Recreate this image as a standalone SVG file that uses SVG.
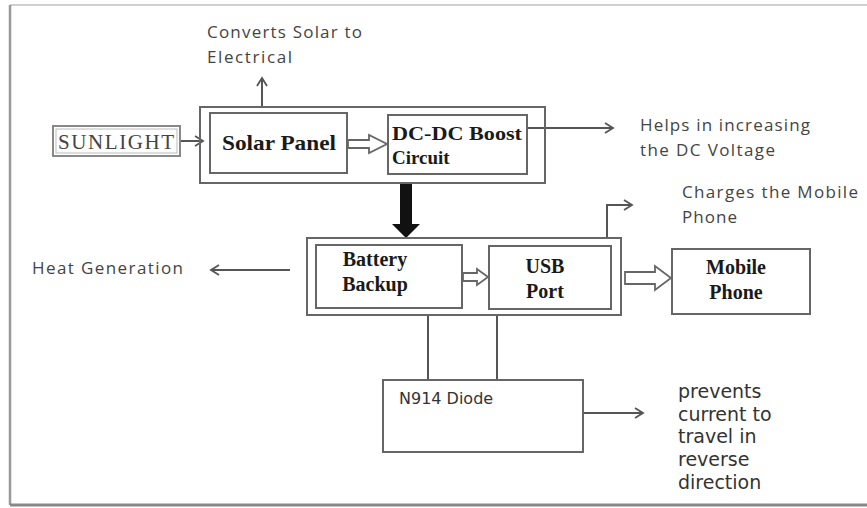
<svg xmlns="http://www.w3.org/2000/svg" width="867" height="508" viewBox="0 0 867 508">
<style>
.box{fill:#fff;stroke:#666;stroke-width:2}
.obox{fill:none;stroke:#666;stroke-width:2}
.ln{fill:none;stroke:#555;stroke-width:2}
.hol{fill:#fff;stroke:#666;stroke-width:1.8;stroke-linejoin:miter}
.bt{font-family:"Liberation Serif",serif;font-weight:bold;fill:#1a1a1a;text-anchor:middle}
.lbl{font-family:"Open Sans","Liberation Sans",sans-serif;fill:#444;font-size:17px}
.dj{font-family:"DejaVu Sans",sans-serif;fill:#333}
</style>
<defs>
<marker id="ah" markerWidth="12" markerHeight="12" refX="10" refY="6" orient="auto" markerUnits="userSpaceOnUse">
<path d="M2,1 L10,6 L2,11" fill="none" stroke="#555" stroke-width="1.8"/>
</marker>
</defs>
<rect width="867" height="508" fill="#fff"/>
<g id="frame">
<line x1="10" y1="5" x2="867" y2="5" stroke="#d0d0d0" stroke-width="2"/>
<line x1="10" y1="5" x2="10" y2="505" stroke="#999" stroke-width="2.5"/>
<line x1="10" y1="505" x2="867" y2="505" stroke="#888" stroke-width="3"/>
</g>
<g id="connectors">
<line class="ln" x1="180" y1="141" x2="203" y2="141" marker-end="url(#ah)"/>
<line class="ln" x1="262" y1="107" x2="262" y2="78" marker-end="url(#ah)"/>
<line class="ln" x1="527" y1="128" x2="613" y2="128" marker-end="url(#ah)"/>
<path class="hol" d="M348,140 L369,140 L369,135 L387,144 L369,153 L369,148 L348,148 Z"/>
<path d="M400,183 L412,183 L412,224 L420,224 L406,238 L392,224 L400,224 Z" fill="#111"/>
<line class="ln" x1="290" y1="270" x2="211" y2="270" marker-end="url(#ah)"/>
<path class="hol" d="M463,273 L477,273 L477,269 L488,277 L477,285 L477,281 L463,281 Z"/>
<path class="hol" d="M625,272 L655,272 L655,266 L671,278 L655,290 L655,284 L625,284 Z"/>
<path class="ln" d="M607,238 L607,205 L632,205" marker-end="url(#ah)"/>
<line class="ln" x1="428" y1="315" x2="428" y2="380"/>
<line class="ln" x1="497" y1="315" x2="497" y2="380"/>
<line class="ln" x1="583" y1="413" x2="643" y2="413" marker-end="url(#ah)"/>
</g>
<g id="sunlight">
<rect x="53" y="126" width="127" height="30" fill="#fff" stroke="#888" stroke-width="2"/>
<rect x="56" y="129" width="121" height="24" fill="none" stroke="#bbb" stroke-width="1"/>
<text x="116" y="149" font-family="'Liberation Serif',serif" font-size="21" fill="#444" text-anchor="middle" textLength="116" lengthAdjust="spacing">SUNLIGHT</text>
</g>
<g id="solar-group">
<rect class="obox" x="200" y="107" width="345" height="76"/>
</g>
<g id="solar-panel">
<rect class="box" x="210" y="113" width="137" height="60"/>
<text class="bt" x="279" y="150" font-size="21" textLength="114" lengthAdjust="spacingAndGlyphs">Solar Panel</text>
</g>
<g id="dcdc">
<rect class="box" x="388" y="115" width="139" height="59"/>
<text class="bt" x="392" y="140" font-size="19" style="text-anchor:start" textLength="130" lengthAdjust="spacingAndGlyphs">DC-DC Boost</text>
<text class="bt" x="392" y="164" font-size="19" style="text-anchor:start">Circuit</text>
</g>
<g id="battery-group">
<rect class="obox" x="307" y="238" width="314" height="77"/>
</g>
<g id="battery">
<rect class="box" x="316" y="245" width="146" height="63"/>
<text class="bt" x="375" y="266" font-size="20">Battery</text>
<text class="bt" x="375" y="291" font-size="20">Backup</text>
</g>
<g id="usb">
<rect class="box" x="489" y="246" width="122" height="63"/>
<text class="bt" x="545" y="273" font-size="20">USB</text>
<text class="bt" x="545" y="298" font-size="20">Port</text>
</g>
<g id="mobile">
<rect class="box" x="672" y="249" width="138" height="65"/>
<text class="bt" x="736" y="274" font-size="20">Mobile</text>
<text class="bt" x="736" y="299" font-size="20">Phone</text>
</g>
<g id="diode">
<rect class="box" x="383" y="380" width="200" height="72"/>
<text class="dj" x="399" y="404" font-size="16">N914 Diode</text>
</g>
<g id="labels">
<text class="lbl" x="207" y="38" textLength="155" lengthAdjust="spacing">Converts Solar to</text>
<text class="lbl" x="207" y="63" textLength="85" lengthAdjust="spacing">Electrical</text>
<text class="lbl" x="640" y="131" textLength="170" lengthAdjust="spacing">Helps in increasing</text>
<text class="lbl" x="640" y="156" textLength="135" lengthAdjust="spacing">the DC Voltage</text>
<text class="lbl" x="682" y="198" textLength="176" lengthAdjust="spacing">Charges the Mobile</text>
<text class="lbl" x="682" y="223" textLength="55" lengthAdjust="spacing">Phone</text>
<text class="lbl" x="32" y="274" textLength="151" lengthAdjust="spacing">Heat Generation</text>
<text class="dj" x="678" y="398" font-size="19">prevents</text>
<text class="dj" x="678" y="421" font-size="19">current to</text>
<text class="dj" x="678" y="443" font-size="19">travel in</text>
<text class="dj" x="678" y="466" font-size="19">reverse</text>
<text class="dj" x="678" y="489" font-size="19">direction</text>
</g>
</svg>
